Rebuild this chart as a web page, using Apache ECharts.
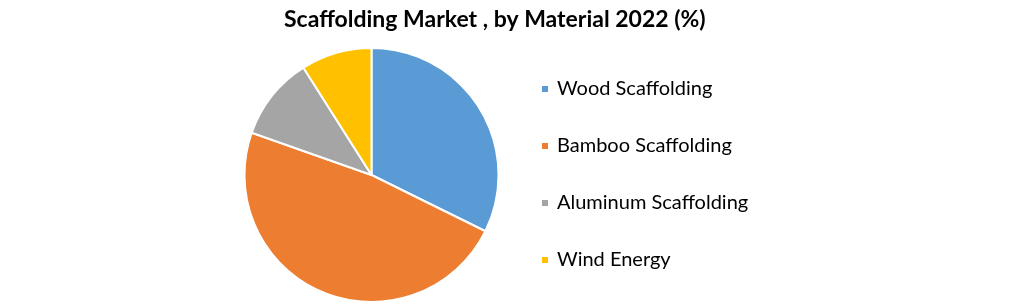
<!DOCTYPE html>
<html><head><meta charset="utf-8">
<script src="https://cdn.jsdelivr.net/npm/echarts@6/dist/echarts.min.js"></script>
<style>html,body{margin:0;padding:0;background:#fff}#c{width:1021px;height:304px}</style>
</head><body><div id="c"></div>
<script>
const categories = ['Wood Scaffolding', 'Bamboo Scaffolding', 'Aluminum Scaffolding', 'Wind Energy'];
const values = [32.3, 48.1, 10.6, 9.0];
const colors = ['#5B9BD5', '#ED7D31', '#A5A5A5', '#FFC000'];
const titleText = 'Scaffolding Market , by Material 2022 (%)';

const chart = echarts.init(document.getElementById('c'), null, {renderer: 'canvas'});
chart.setOption({
  animation: false,
  backgroundColor: '#fff',
  color: colors,
  title: {
    text: titleText, left: 279, top: 3,
    textStyle: {fontFamily: 'Lato', fontWeight: 'bold', fontSize: 23, color: '#000'}
  },
  legend: {
    orient: 'vertical', left: 540, top: 79, padding: 0,
    icon: 'rect', itemWidth: 8, itemHeight: 8, itemGap: 37,
    textStyle: {fontFamily: 'Lato', fontSize: 20, color: '#000', padding: [0, 0, 0, 3]},
    data: categories
  },
  series: [{
    type: 'pie', center: [371.5, 175], radius: 127,
    startAngle: 90, clockwise: true,
    label: {show: false}, labelLine: {show: false},
    itemStyle: {borderColor: '#fff', borderWidth: 2},
    emphasis: {disabled: true},
    data: categories.map((n, i) => ({name: n, value: values[i]}))
  }]
});
</script></body></html>
